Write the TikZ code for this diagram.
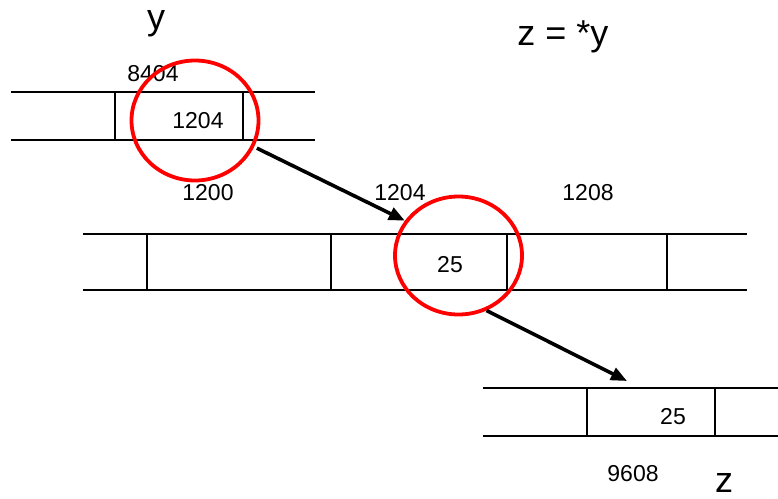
\documentclass[tikz,border=0pt]{standalone}
\usepackage{fontspec}
\setmainfont{Liberation Sans}
\usetikzlibrary{arrows.meta, positioning, shapes.geometric}
\definecolor{cmark}{HTML}{ff0000}

\begin{document}
\begin{tikzpicture}[
  x=1pt, y=-1pt,
  font=\fontsize{23}{27}\selectfont,
  rowline/.style={line width=2pt},
  divider/.style={line width=2.6pt},
  addr/.style={anchor=base, inner sep=0pt},
  big/.style={addr, font=\fontsize{36}{40}\selectfont},
  ring/.style={ellipse, draw=cmark, line width=3.8pt, inner sep=0pt},
  ptr/.style={line width=3.6pt, -{Triangle[length=16pt, width=13pt]}},
  ]
\useasboundingbox (0,0) rectangle (778,498);

% variable y
\draw[rowline] (11,92) -- (315,92) (11,140) -- (315,140);
\foreach \x in {115,243} \draw[divider] (\x,92) -- (\x,140);
\node[big]  (ylab)  at (156,29)  {y};
\node[addr] (yaddr) at (153,81)  {8404};
\node[addr] (yval)  at (198,128) {1204};

% memory block
\draw[rowline] (83,234) -- (747,234) (83,290) -- (747,290);
\foreach \x in {147,331,507,667} \draw[divider] (\x,234) -- (\x,290);
\node[addr] (a1200) at (208,200) {1200};
\node[addr] (a1204) at (400,200) {1204};
\node[addr] (a1208) at (588,200) {1208};
\node[addr] (mval)  at (450,272) {25};

% variable z
\draw[rowline] (483,388) -- (778,388) (483,436) -- (778,436);
\foreach \x in {587,715} \draw[divider] (\x,388) -- (\x,436);
\node[addr] (zval)  at (673,424) {25};
\node[addr] (zaddr) at (633,481) {9608};
\node[big]  (zlab)  at (724,492) {z};

\node[big] (stmt) at (563,45) {z = *y};

% the two dereferences
\node[ring, minimum width=127pt, minimum height=120pt] (ring1) at (195,120.5) {};
\node[ring, minimum width=127pt, minimum height=118pt] (ring2) at (458.5,255.5) {};
\coordinate (ztop) at (627,381);
\draw[ptr, shorten <=3pt] (ring1.-24) -- (ring2.147);
\draw[ptr] (ring2.-63) -- (ztop);
\end{tikzpicture}
\end{document}
